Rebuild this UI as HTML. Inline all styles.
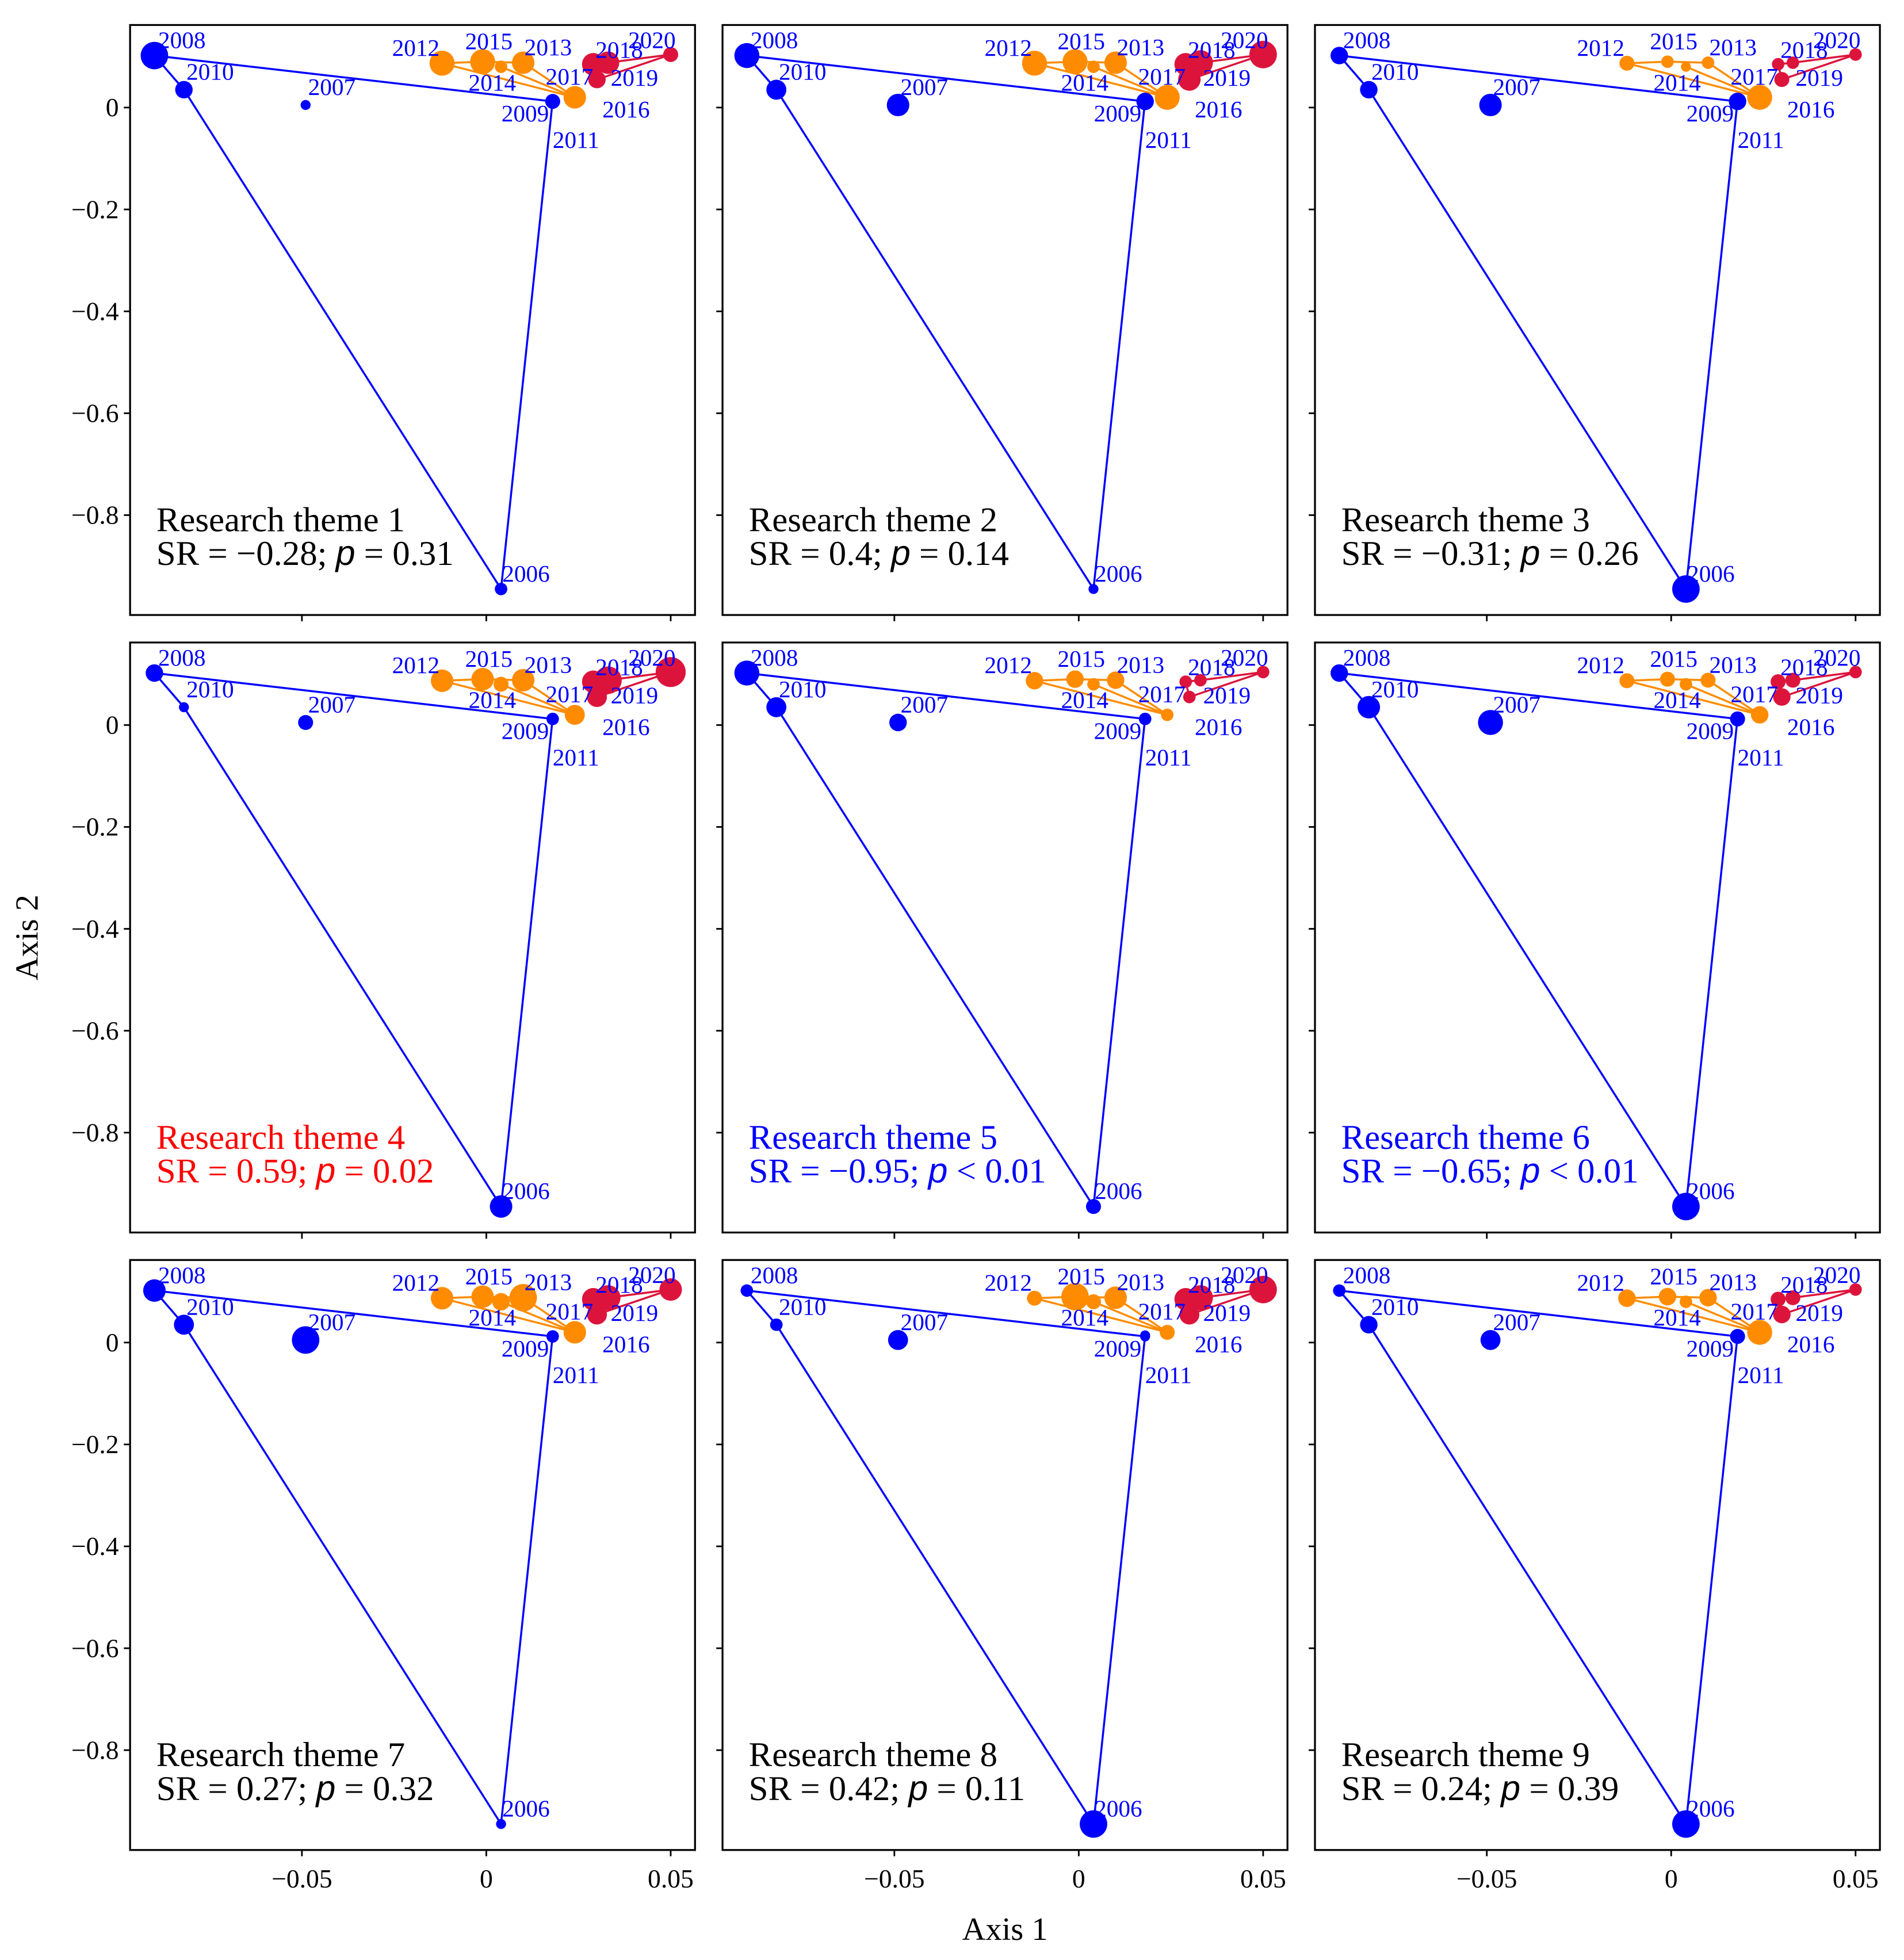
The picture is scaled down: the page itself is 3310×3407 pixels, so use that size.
<!DOCTYPE html>
<html><head><meta charset="utf-8"><style>
html,body{margin:0;padding:0;background:#fff;}
svg{display:block;}
text{font-family:"Liberation Serif",serif;}
</style></head><body>
<svg id="fig" width="3310" height="3407" viewBox="0 0 1523.2 1568" xmlns="http://www.w3.org/2000/svg"></svg>
<script>
const years=[2006,2007,2008,2009,2010,2011,2012,2013,2014,2015,2016,2017,2018,2019,2020];
const axis1=[0.004,-0.049,-0.090,0.018,-0.082,0.018,-0.012,0.010,0.004,-0.001,0.024,0.030,0.033,0.050,0.029];
const axis2=[-0.945,0.005,0.102,0.012,0.035,0.014,0.087,0.088,0.080,0.090,0.020,0.055,0.088,0.104,0.085];
const groupOf=[0,0,0,0,0,0,1,1,1,1,1,2,2,2,2];
const edges=[[2006,2010],[2010,2008],[2008,2009],[2009,2011],[2011,2006],[2012,2015],[2015,2013],[2012,2016],[2013,2016],[2014,2016],[2017,2020],[2020,2018],[2018,2019],[2017,2019]];
const sizes=[
[5,4,11,6,7,4,10,9,5,10,9,7,9,6,9],
[4,9,10,7,8,4,10,9,5,10,10,9,10,11,9],
[11,9,7,7,7,4,6,5,4,5,10,6,5,5,5],
[9,6,7,5,4,4,9,9,6,9,8,8,11,12,9],
[6,7,10,5,8,4,7,7,5,7,5,5,5,5,5],
[11,10,7,6,9,4,6,6,5,6,7,7,6,5,6],
[4,11,9,5,8,4,9,11,7,9,9,8,10,9,9],
[11,8,5,4,5,4,6,9,6,11,6,8,10,11,9],
[11,8,5,6,7,4,7,7,5,7,10,7,6,5,6]];
const themes=["Research theme 1","Research theme 2","Research theme 3","Research theme 4","Research theme 5","Research theme 6","Research theme 7","Research theme 8","Research theme 9"];
const srVals=["\u22120.28","0.4","\u22120.31","0.59","\u22120.95","\u22120.65","0.27","0.42","0.24"];
const pOps=["=","=","=","=","<","<","=","=","="];
const pVals=["0.31","0.14","0.26","0.02","0.01","0.01","0.32","0.11","0.39"];
const xTicks=[-0.05,0,0.05];
const xTickLabels=["\u22120.05","0","0.05"];
const yTicks=[0,-0.2,-0.4,-0.6,-0.8];
const yTickLabels=["0","\u22120.2","\u22120.4","\u22120.6","\u22120.8"];

const colors=["#0000ff","#ff8c00","#dc143c"];
const annColors=["#000","#000","#000","#ff0000","#0000ff","#0000ff","#000","#000","#000"];
const labOff={2006:[1,-6,"start"],2007:[2,-8,"start"],2008:[3,-6,"start"],2009:[-3,16,"end"],2010:[2,-8,"start"],2011:[0,38,"start"],
2012:[-2,-6,"end"],2013:[1,-6,"start"],2014:[-26,19,"start"],2015:[-14,-10,"start"],2016:[22,16,"start"],
2017:[-3,4,"end"],2018:[-10,-4,"start"],2019:[-48,25,"start"],2020:[28,-13,"start"]};
const NS="http://www.w3.org/2000/svg";
const svg=document.getElementById('fig');
function mk(tag,attrs,parent){const e=document.createElementNS(NS,tag);for(const k in attrs)e.setAttribute(k,attrs[k]);(parent||svg).appendChild(e);return e;}
const PX=[104,578,1052],PY=[20,514,1008],PW=452,PH=472;
const XMIN=-0.0966,XMAX=0.0566,YMIN=-0.996,YMAX=0.162;
for(let k=0;k<9;k++){
  const col=k%3,row=Math.floor(k/3);
  const x0=PX[col],y0=PY[row];
  const sx=v=>x0+(v-XMIN)/(XMAX-XMIN)*PW;
  const sy=v=>y0+(YMAX-v)/(YMAX-YMIN)*PH;
  const g=mk('g',{});
  
  
  yTicks.forEach((t,i)=>{
    const tk=mk('line',{x1:x0-5,x2:x0,y1:sy(t),y2:sy(t),stroke:'#000','stroke-width':1.3},g);
    
    
    if(col===0){const tl=mk('text',{x:x0-9,y:sy(t)+7,'text-anchor':'end','font-size':21},g);tl.textContent=yTickLabels[i];
      
      }
  });
  xTicks.forEach((t,i)=>{
    const tk=mk('line',{x1:sx(t),x2:sx(t),y1:y0+PH,y2:y0+PH+5,stroke:'#000','stroke-width':1.3},g);
    
    
    if(row===2){const tl=mk('text',{x:sx(t),y:y0+PH+30,'text-anchor':'middle','font-size':21},g);tl.textContent=xTickLabels[i];
      
      }
  });
  const idx=y=>years.indexOf(y);
  edges.forEach(e=>{
    const a=idx(e[0]),b=idx(e[1]);
    const ln=mk('line',{x1:sx(axis1[a]),y1:sy(axis2[a]),x2:sx(axis1[b]),y2:sy(axis2[b]),stroke:colors[groupOf[a]],'stroke-width':1.6},g);
    
    
  });
  years.forEach((y,i)=>{
    const c=mk('circle',{cx:sx(axis1[i]),cy:sy(axis2[i]),r:sizes[k][i],fill:colors[groupOf[i]]},g);
    
    
  });
  years.forEach((y,i)=>{
    const o=labOff[y];
    const t=mk('text',{x:sx(axis1[i])+o[0],y:sy(axis2[i])+o[1],'text-anchor':o[2],'font-size':19,fill:'#0000ff'},g);
    t.textContent=y;
    
    
  });
  const a1=mk('text',{x:x0+21,y:y0+405,'font-size':28,fill:annColors[k]},g);
  a1.textContent=themes[k];
  
  
  const a2=mk('text',{x:x0+21,y:y0+432,'font-size':28,fill:annColors[k]},g);
  
  
  const s1=mk('tspan',{},a2);s1.textContent='SR = '+srVals[k]+'; ';
  const s2=mk('tspan',{'font-family':'Liberation Sans, sans-serif','font-style':'italic'},a2);s2.textContent='p';
  const s3=mk('tspan',{},a2);s3.textContent=' '+pOps[k]+' '+pVals[k];
  const fr=mk('rect',{x:x0,y:y0,width:PW,height:PH,fill:'none',stroke:'#000','stroke-width':1.5},g);
  
  
}
const xt=mk('text',{x:804,y:1552,'text-anchor':'middle','font-size':26});
xt.textContent='Axis 1';


const yt=mk('text',{x:0,y:0,'text-anchor':'middle','font-size':26,transform:'translate(30,750) rotate(-90)'});
yt.textContent='Axis 2';


</script>
</body></html>
